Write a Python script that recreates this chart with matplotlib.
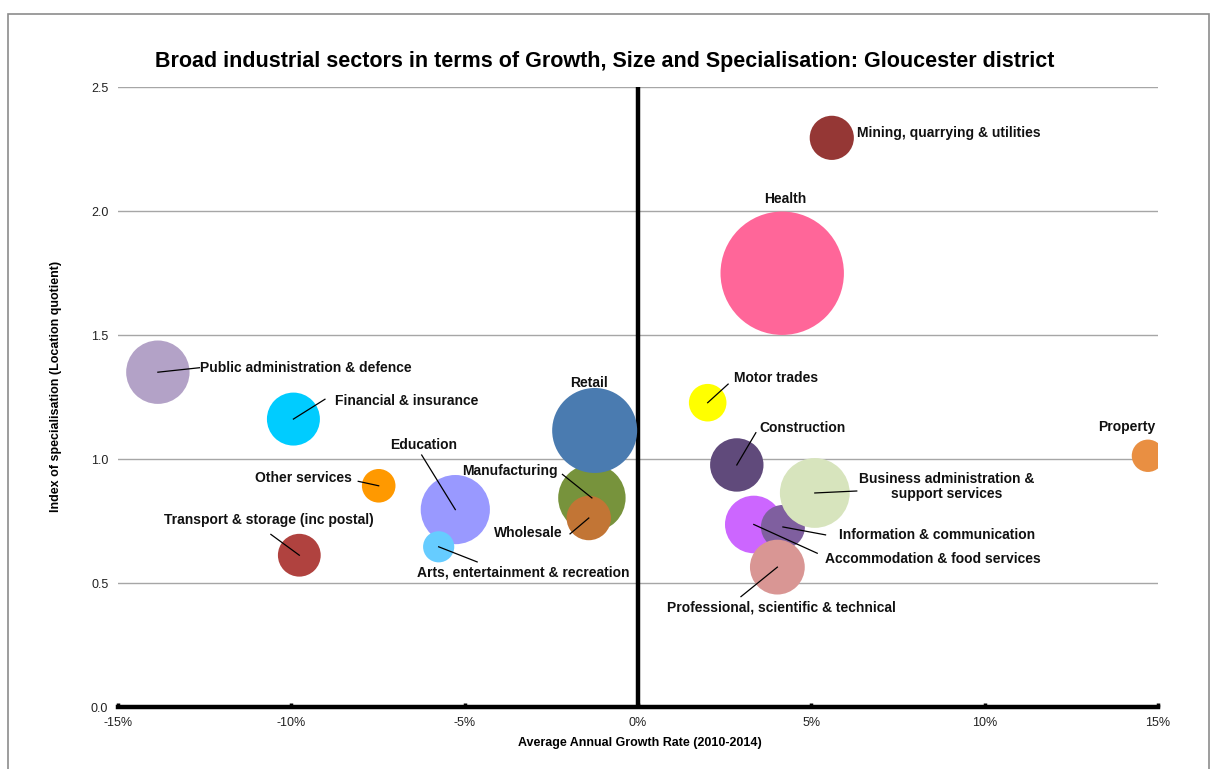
import matplotlib
matplotlib.use("Agg")
import matplotlib.pyplot as plt
from matplotlib.patches import Rectangle
from matplotlib.ticker import FuncFormatter
import numpy as np

plt.rcParams['font.family'] = ['Liberation Sans', 'DejaVu Sans']

# ---- data ----
sectors = [
    "Public administration & defence", "Financial & insurance", "Other services",
    "Transport & storage (inc postal)", "Education", "Arts, entertainment & recreation",
    "Manufacturing", "Retail", "Wholesale",
    "Health", "Mining, quarrying & utilities", "Motor trades", "Construction",
    "Accommodation & food services", "Information & communication",
    "Business administration &\nsupport services", "Professional, scientific & technical",
    "Property",
]
growth = [-13.85, -9.94, -7.48, -9.77, -5.27, -5.75,
          -1.33, -1.25, -1.42,
          4.16, 5.59, 2.01, 2.85,
          3.34, 4.18, 5.10, 4.02, 14.71]
lq = [1.350, 1.161, 0.892, 0.612, 0.796, 0.646,
      0.843, 1.115, 0.762,
      1.749, 2.295, 1.227, 0.976,
      0.736, 0.726, 0.863, 0.564, 1.013]
size = [100.5, 70.2, 28.2, 45.8, 119.7, 24.3,
        113.6, 180.6, 49.3,
        380.7, 48.8, 35.3, 71.3,
        82.9, 48.4, 121.8, 75.1, 26.2]
colors = ["#B3A2C7", "#00CCFF", "#FF9900", "#B0423F", "#9999FF", "#66CCFF",
          "#77933C", "#4A7BB0", "#C27535",
          "#FF6699", "#953735", "#FFFF00", "#604A7B",
          "#CC66FF", "#7F5F9F", "#D7E4BD", "#D99694", "#E98F42"]

xticks = [-15, -10, -5, 0, 5, 10, 15]
yticks = [0.0, 0.5, 1.0, 1.5, 2.0, 2.5]

# label placement: (text x, text y, ha, leader end x, leader end y) ; None leader -> no line
label_pos = {
    "Public administration & defence": (-12.63, 1.366, "left", -12.65, 1.368),
    "Financial & insurance": (-8.74, 1.234, "left", -9.03, 1.241),
    "Other services": (-8.26, 0.923, "right", -8.07, 0.910),
    "Transport & storage (inc postal)": (-10.66, 0.754, "center", -10.59, 0.696),
    "Education": (-6.17, 1.056, "center", -6.24, 1.016),
    "Arts, entertainment & recreation": (-6.37, 0.544, "left", -4.64, 0.585),
    "Manufacturing": (-2.32, 0.952, "right", -2.18, 0.938),
    "Retail": (-1.41, 1.305, "center", None, None),
    "Wholesale": (-2.18, 0.700, "right", -1.96, 0.698),
    "Health": (4.26, 2.048, "center", None, None),
    "Mining, quarrying & utilities": (6.32, 2.315, "left", None, None),
    "Motor trades": (2.77, 1.325, "left", 2.60, 1.302),
    "Construction": (3.50, 1.124, "left", 3.40, 1.106),
    "Accommodation & food services": (5.39, 0.596, "left", 5.17, 0.620),
    "Information & communication": (5.81, 0.694, "left", 5.41, 0.694),
    "Business administration &\nsupport services": (8.90, 0.889, "center", 6.31, 0.871),
    "Professional, scientific & technical": (0.85, 0.402, "left", 2.97, 0.445),
    "Property": (14.10, 1.128, "center", None, None),
}

fig = plt.figure(figsize=(12.11, 7.69), dpi=100)
fig.patches.append(Rectangle((8 / 1211, -0.02), (1209 - 8) / 1211, 1 - 14 / 769 + 0.02,
                             transform=fig.transFigure, fill=False,
                             edgecolor="#8C8C8C", linewidth=1.2))
ax = fig.add_axes([118 / 1211, 1 - 707 / 769, (1158 - 118) / 1211, (707 - 87) / 769])

ax.set_xlim(-15, 15)
ax.set_ylim(0, 2.5)
ax.set_xticks(xticks)
ax.set_yticks(yticks)
ax.xaxis.set_major_formatter(FuncFormatter(lambda v, p: f"{v:.0f}%"))
ax.yaxis.set_major_formatter(FuncFormatter(lambda v, p: f"{v:.1f}"))

ax.grid(axis="y", color="#A6A6A6", linewidth=1.0, zorder=0)
ax.set_axisbelow(True)
for s in ["top", "right", "left"]:
    ax.spines[s].set_visible(False)
ax.spines["bottom"].set_linewidth(3.2)
ax.spines["bottom"].set_color("black")
ax.spines["bottom"].set_zorder(5)
ax.axvline(0, color="black", linewidth=3.2, zorder=1.5, solid_capstyle="butt")

ax.tick_params(axis="x", direction="in", length=3, width=2.5, colors="black",
               labelsize=9, pad=7, labelcolor="#222222")
ax.tick_params(axis="y", length=0, labelsize=9, pad=7, labelcolor="#222222")

# bubble radius in px ~ sqrt(size*10); convert to points^2 for scatter
rad_px = np.sqrt(np.array(size) * 10.0)
s_pts = (2 * rad_px * 72 / fig.dpi) ** 2
ax.scatter(growth, lq, s=s_pts, c=colors, edgecolors="none", zorder=2)

for name, gx, gy in zip(sectors, growth, lq):
    tx, ty, ha, lx, ly = label_pos[name]
    if lx is not None:
        ax.plot([gx, lx], [gy, ly], color="black", linewidth=0.9, zorder=3)
    ax.text(tx, ty, name, ha=ha, va="center", fontsize=10, fontweight="bold",
            color="#111111", zorder=4, linespacing=1.15)

fig.text(605 / 1211, 1 - 61 / 769, "Broad industrial sectors in terms of Growth, Size and Specialisation: Gloucester district",
         ha="center", va="center", fontsize=15.5, fontweight="bold")
fig.text(640 / 1211, 1 - 743 / 769, "Average Annual Growth Rate (2010-2014)",
         ha="center", va="center", fontsize=9, fontweight="bold")
fig.text(56 / 1211, 1 - 386 / 769, "Index of specialisation (Location quotient)",
         ha="center", va="center", rotation=90, fontsize=9, fontweight="bold")

fig.savefig("out.png", dpi=100)
